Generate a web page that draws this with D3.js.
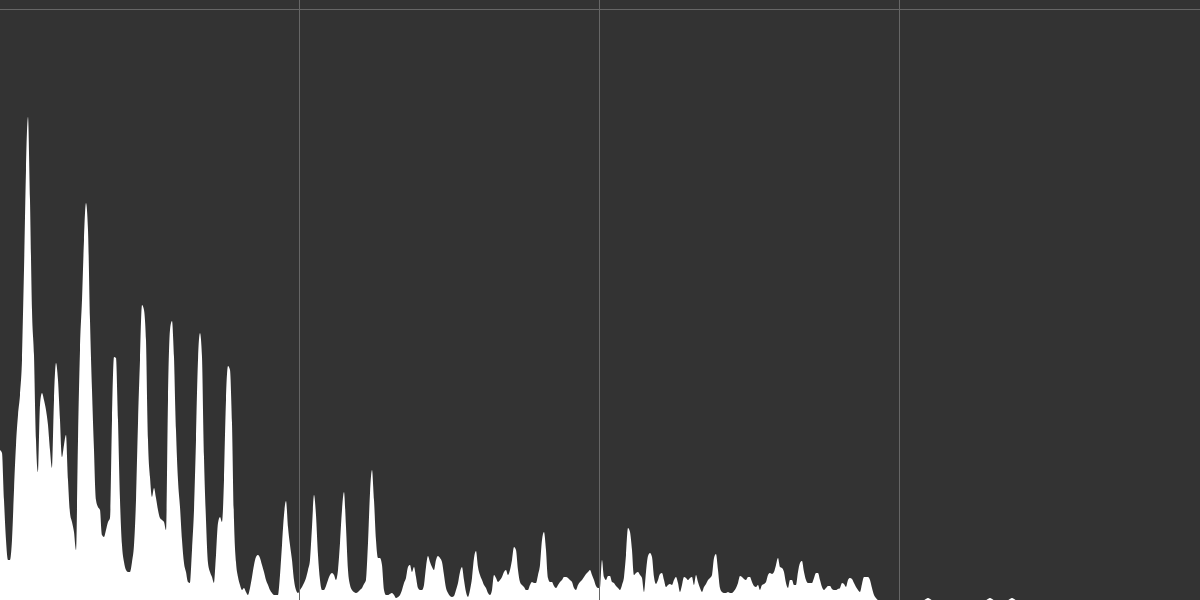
<!DOCTYPE html>
<html>
<head>
<meta charset="utf-8">
<script src="https://cdn.jsdelivr.net/npm/d3@7"></script>
<style>
  html, body { margin: 0; padding: 0; background: #333333; overflow: hidden; }
  svg { display: block; }
</style>
</head>
<body>
<svg id="chart" width="1200" height="600"></svg>
<script>
// Spectrum magnitudes, one per frequency bin (bin step = 2 frequency units)
const freqStep = 2;
const magnitudes = [
  150,147,100,60,40,40,60,110,155,185,205,240,330,430,483,400,290,245,160,128,
  195,207,200,190,175,150,132,200,237,220,180,143,155,165,120,87,78,68,50,160,
  250,300,360,397,370,280,210,150,100,93,90,65,63,70,78,82,180,243,242,180,
  100,55,38,30,28,28,38,55,100,177,240,295,290,260,160,123,103,112,102,90,
  82,80,78,70,200,270,279,243,170,120,93,60,37,28,18,17,50,90,160,240,
  267,243,143,80,37,28,23,17,45,77,83,78,120,200,234,230,177,80,38,23,
  15,10,12,8,5,12,23,35,43,45,42,35,28,20,15,10,7,5,5,5,
  25,55,85,99,73,55,40,20,10,7,10,13,17,22,30,40,73,105,85,45,
  20,10,10,14,20,25,27,25,20,30,57,90,108,73,30,15,10,8,7,8,
  10,12,16,20,57,107,130,100,60,42,42,35,10,5,5,6,7,5,2,3,
  5,10,17,22,33,35,28,33,23,12,10,10,15,33,44,38,33,30,40,44,
  42,38,25,12,7,4,3,4,10,17,28,33,20,8,3,10,22,42,49,33,
  25,20,15,12,7,5,10,25,22,18,20,23,28,30,25,30,40,53,50,30,
  18,15,13,10,10,15,18,17,17,25,35,60,68,50,22,18,18,14,12,15,
  18,20,23,23,22,20,18,12,10,15,18,20,23,26,28,30,25,20,14,12,
  12,40,23,20,24,24,18,17,14,12,10,15,23,45,72,68,50,25,27,28,
  25,22,8,28,44,47,43,23,16,20,26,27,20,13,15,16,15,20,23,17,
  8,15,23,22,20,22,23,15,25,18,12,8,13,16,20,22,25,42,46,30,
  12,8,7,7,8,7,7,9,12,17,24,23,21,20,23,23,18,14,13,15,
  10,15,16,18,25,27,26,28,35,42,33,32,28,17,12,20,20,15,15,28,
  37,39,28,20,17,17,17,22,27,27,20,13,10,12,14,14,11,10,10,11,
  12,17,16,13,20,22,21,17,13,10,8,16,23,23,23,20,12,5,2,0,
  0,0,0,0,0,0,0,0,0,0,0,0,0,0,0,0,0,0,0,0,
  0,0,0,1,2,1,0,0,0,0,0,0,0,0,0,0,0,0,0,0,
  0,0,0,0,0,0,0,0,0,0,0,0,0,0,1,2,1,0,0,0,
  0,0,0,0,0,1,2,1,0,0,0,0,0,0,0,0,0,0,0,0,
  0,0,0,0,0,0,0,0,0,0,0,0,0,0,0,0,0,0,0,0,
  0,0,0,0,0,0,0,0,0,0,0,0,0,0,0,0,0,0,0,0,
  0,0,0,0,0,0,0,0,0,0,0,0,0,0,0,0,0,0,0,0,
  0,0,0,0,0,0,0,0,0,0,0,0,0,0,0,0,0,0,0,0
];
const xDomain = [0, 1200];
const yDomain = [0, 590];
const xTicks = [300, 600, 900];
const yTicks = [590];

const width = 1200, height = 600;
const svg = d3.select("#chart");

const x = d3.scaleLinear().domain(xDomain).range([0, width]);
const y = d3.scaleLinear().domain(yDomain).range([height, 10]);

const data = magnitudes.map((m, i) => ({ f: i * freqStep, m }));

svg.append("rect").attr("width", width).attr("height", height).attr("fill", "#333333");

const area = d3.area()
  .x(d => x(d.f))
  .y0(y(0))
  .y1(d => y(d.m))
  .curve(d3.curveMonotoneX);

svg.append("path")
  .datum(data)
  .attr("fill", "#ffffff")
  .attr("d", area);

// grid (drawn above the spectrum)
const grid = svg.append("g").attr("class", "grid");
grid.selectAll("line.v")
  .data(xTicks)
  .join("line")
  .attr("class", "v")
  .attr("x1", d => Math.round(x(d)) - 0.5)
  .attr("x2", d => Math.round(x(d)) - 0.5)
  .attr("y1", 0)
  .attr("y2", height)
  .attr("stroke", "#666666")
  .attr("stroke-width", 1);
grid.selectAll("line.h")
  .data(yTicks)
  .join("line")
  .attr("class", "h")
  .attr("x1", 0)
  .attr("x2", width)
  .attr("y1", d => Math.round(y(d)) - 0.5)
  .attr("y2", d => Math.round(y(d)) - 0.5)
  .attr("stroke", "#666666")
  .attr("stroke-width", 1);
</script>
</body>
</html>
